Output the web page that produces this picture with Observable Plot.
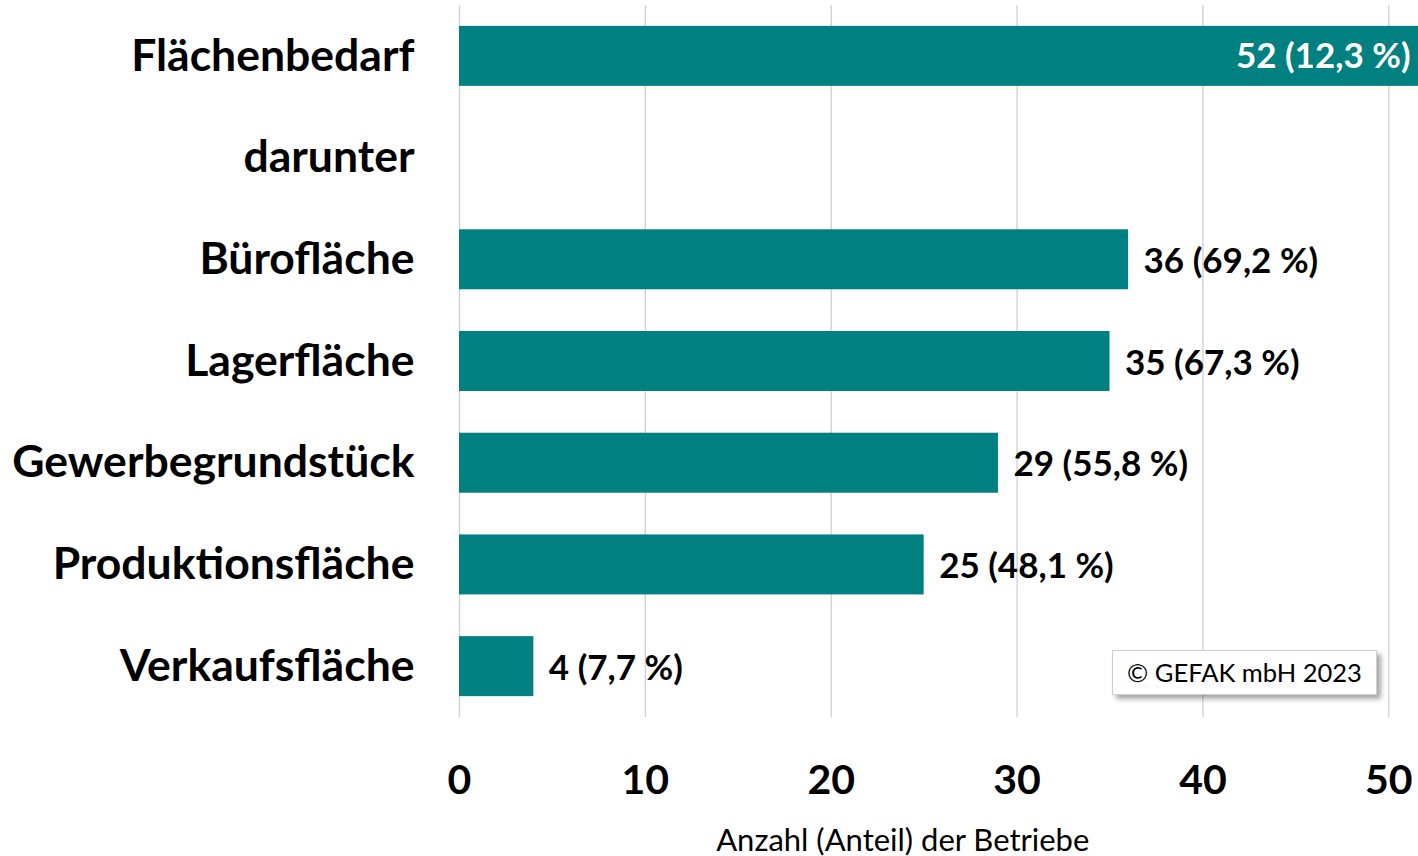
<!DOCTYPE html>
<html>
<head>
<meta charset="utf-8">
<script src="https://cdn.jsdelivr.net/npm/d3@7"></script>
<script src="https://cdn.jsdelivr.net/npm/@observablehq/plot@0.6"></script>
<style>
  html, body { margin: 0; padding: 0; background: #fff; }
  #wrap { position: relative; width: 1418px; height: 856px; font-family: Lato, "Open Sans", sans-serif; }
  #credit { position: absolute; left: 1112px; top: 650px; width: 265px; height: 45px; box-sizing: border-box;
    border: 1px solid #cfcfcf; background: #fff; box-shadow: 4px 4px 5px rgba(0,0,0,0.35);
    font-size: 25.5px; line-height: 43px; text-align: center; color: #000; }
</style>
</head>
<body>
<div id="wrap"><div id="credit">© GEFAK mbH 2023</div></div>
<script>
const categories = ["Flächenbedarf", "darunter", "Bürofläche", "Lagerfläche", "Gewerbegrundstück", "Produktionsfläche", "Verkaufsfläche"];
const counts = [52, null, 36, 35, 29, 25, 4];
const shares = ["12,3", null, "69,2", "67,3", "55,8", "48,1", "7,7"];
const xTicks = [0, 10, 20, 30, 40, 50];
const xLabel = "Anzahl (Anteil) der Betriebe";

const data = categories.map((c, i) => ({
  cat: c, n: counts[i], label: counts[i] == null ? null : `${counts[i]} (${shares[i]} %)`
}));
const bars = data.filter(d => d.n != null);
const inside = bars.filter(d => d.n >= 50);
const outside = bars.filter(d => d.n < 50);

const font = "Lato, 'Open Sans', sans-serif";
const chart = Plot.plot({
  width: 1418,
  height: 856,
  marginLeft: 459,
  marginRight: 0,
  marginTop: 5,
  marginBottom: 139,
  style: { fontFamily: font, background: "#fff", color: "#000", overflow: "visible" },
  x: { domain: [0, 51.6] },
  y: { domain: categories, paddingInner: 0.41, paddingOuter: 0.205, round: false },
  marks: [
    Plot.ruleX(xTicks, { stroke: "#d0d0d0", strokeWidth: 1.3 }),
    Plot.barX(bars, { x: "n", y: "cat", fill: "#008080", clip: true }),
    Plot.text(outside, { x: "n", y: "cat", text: "label", textAnchor: "start", dx: 15, dy: 2, fontSize: 35, fontWeight: "bold", fill: "#000" }),
    Plot.text(inside, { x: 51.6, y: "cat", text: "label", textAnchor: "end", dx: -8, fontSize: 35, fontWeight: "bold", fill: "#fff" }),
    Plot.axisY({ tickSize: 0, tickPadding: 45, fontSize: 44.5, fontWeight: "bold", label: null }),
    Plot.axisX({ ticks: xTicks, tickSize: 0, tickPadding: 47, fontSize: 41, fontWeight: "bold", label: null }),
    Plot.text([xLabel], { frameAnchor: "bottom", dy: 133, text: d => d, fontSize: 31, fontWeight: "normal", fill: "#000", x: 23.85 })
  ]
});
document.getElementById("wrap").prepend(chart);
chart.style.position = "absolute";
chart.style.left = "0";
chart.style.top = "0";
</script>
</body>
</html>
